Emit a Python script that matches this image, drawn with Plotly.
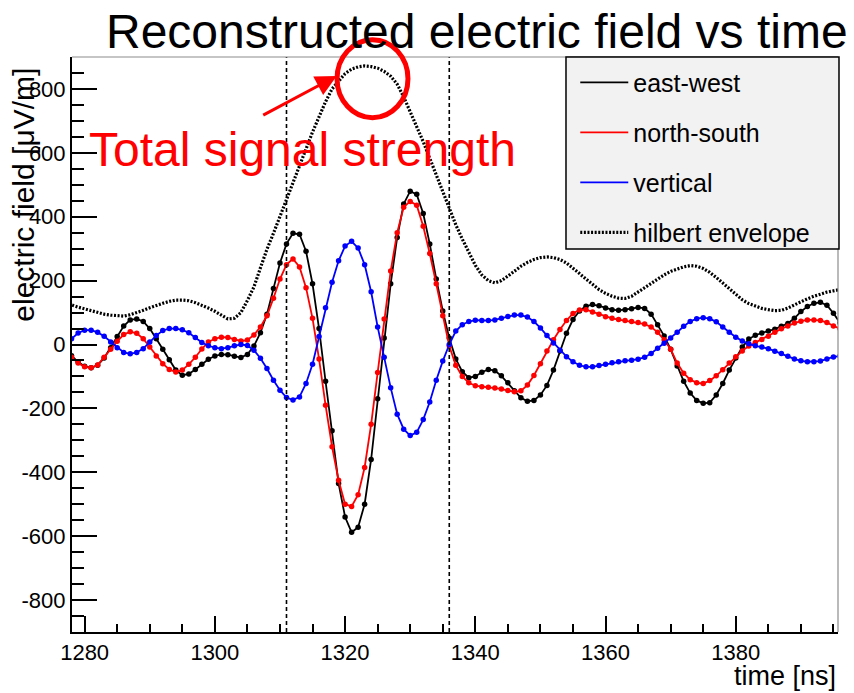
import plotly.graph_objects as go

# Sample times [ns] (1 ns spacing) and the reconstructed field components [uV/m]
time_ns = list(range(1277, 1397))

east_west = [
    -20, -35, -55, -68, -73, -65, -42, -10, 25, 58,
    77, 80, 72, 50, 18, -15, -48, -80, -96, -92,
    -78, -62, -46, -36, -31, -32, -37, -41, -31, -5,
    37, 95, 175, 255, 315, 348, 345, 292, 190, 50,
    -115, -270, -435, -540, -588, -572, -500, -360, -170, 20,
    190, 335, 440, 480, 470, 410, 315, 205, 105, 20,
    -45, -85, -104, -100, -87, -78, -82, -98, -120, -145,
    -167, -178, -175, -158, -128, -80, -20, 35, 78, 105,
    120, 125, 121, 114, 109, 107, 109, 112, 116, 113,
    95, 62, 27, -15, -67, -115, -152, -175, -184, -182,
    -158, -122, -80, -42, -8, 17, 29, 36, 42, 48,
    57, 66, 82, 103, 119, 129, 132, 123, 98, 68,
]

north_south = [
    -25, -40, -58, -70, -73, -64, -40, -15, 10, 31,
    40, 35, 18, -8, -36, -60, -78, -86, -80, -62,
    -40, -14, 8, 18, 23, 22, 16, 11, 14, 30,
    55, 90, 145, 205, 250, 268, 243, 178, 82, -45,
    -190, -320, -425, -500, -507, -470, -385, -250, -88, 80,
    230, 350, 430, 448, 436, 370, 285, 190, 90, -5,
    -65, -100, -120, -129, -132, -134, -136, -139, -144, -148,
    -145, -127, -97, -60, -20, 15, 47, 75, 97, 108,
    109, 102, 95, 87, 82, 78, 75, 72, 69, 64,
    55, 38, 15, -15, -58, -90, -110, -120, -122, -113,
    -98, -79, -58, -38, -20, -5, 6, 16, 26, 38,
    49, 58, 67, 73, 77, 77, 75, 69, 58, 50,
]

vertical = [
    5, 18, 36, 45, 45, 38, 26, 8, -10, -25,
    -29, -25, -13, 8, 28, 44, 50, 50, 46, 37,
    22, 6, -4, -10, -13, -10, -4, 0, -3, -18,
    -43, -75, -112, -143, -166, -174, -164, -122, -62, 25,
    115, 195, 262, 308, 323, 302, 250, 165, 55, -40,
    -135, -218, -265, -285, -275, -235, -180, -112, -52, 0,
    42, 62, 72, 76, 75, 75, 77, 82, 88, 92,
    92, 86, 72, 52, 28, 5, -18, -38, -54, -65,
    -70, -70, -66, -62, -57, -54, -51, -49, -46, -40,
    -28, -12, 4, 20, 38, 57, 72, 81, 84, 81,
    71, 55, 38, 23, 11, 2, -4, -8, -13, -21,
    -28, -37, -45, -51, -54, -54, -52, -45, -39, -36,
]

hilbert_envelope = [
    128, 124, 117, 111, 105, 100, 95, 92, 90, 89,
    93, 99, 107, 115, 123, 129, 135, 139, 139, 137,
    131, 123, 114, 104, 92, 80, 82, 100, 138, 180,
    240, 298, 348, 400, 450, 505, 555, 612, 665, 715,
    760, 800, 825, 848, 862, 869, 872, 870, 865, 855,
    840, 815, 775, 730, 685, 635, 583, 530, 478, 425,
    375, 330, 287, 248, 218, 200, 193, 200, 214, 230,
    245, 257, 266, 272, 274, 272, 266, 255, 240, 222,
    205, 187, 172, 160, 151, 145, 144, 151, 165, 177,
    192, 205, 218, 229, 237, 243, 247, 245, 238, 226,
    210, 192, 173, 155, 140, 128, 120, 113, 109, 106,
    107, 114, 124, 134, 143, 151, 158, 164, 168, 172,
]

# Signal search window [ns]
signal_window = [1311, 1336]

x_range = [1278.06, 1395.7]
y_range = [-900, 900]
x_tick_vals = [1280, 1300, 1320, 1340, 1360, 1380]
x_tick_text = ["1280", "1300", "1320", "1340", "1360", "1380"]
y_tick_vals = [-800, -600, -400, -200, 0, 200, 400, 600, 800]
y_tick_text = ["-800", "-600", "-400", "-200", "0", "200", "400", "600", "800"]

series = [
    ("east-west", east_west, "#000000"),
    ("north-south", north_south, "#ff0000"),
    ("vertical", vertical, "#0000ff"),
]

ROOT_FONT = "Liberation Sans Narrow, Arial Narrow, Liberation Sans, Arial, sans-serif"
SANS = "Liberation Sans, Arial, sans-serif"

fig = go.Figure()

for name, values, color in series:
    fig.add_trace(go.Scatter(
        x=time_ns, y=values, mode="lines", name=name, legendgroup=name,
        line=dict(color=color, width=1.8), hoverinfo="skip",
    ))
    fig.add_trace(go.Scatter(
        x=time_ns, y=values, mode="markers", name=name, legendgroup=name,
        showlegend=False, marker=dict(color=color, size=5.5), hoverinfo="skip",
    ))

fig.add_trace(go.Scatter(
    x=time_ns, y=hilbert_envelope, mode="lines", name="hilbert envelope",
    legendgroup="hilbert envelope",
    line=dict(color="#000000", width=3.2, dash="2px,1.6px"), hoverinfo="skip",
))

shapes = []
for t in signal_window:
    shapes.append(dict(
        type="line", xref="x", yref="paper", x0=t, x1=t, y0=0, y1=1,
        line=dict(color="#000000", width=1.6, dash="4px,3px"), layer="above",
    ))

# top and right frame edges
shapes.append(dict(type="line", xref="paper", yref="paper", x0=0, x1=1, y0=1, y1=1,
                   line=dict(color="#8c8c8c", width=1.2)))
shapes.append(dict(type="line", xref="paper", yref="paper", x0=1, x1=1, y0=0, y1=1,
                   line=dict(color="#8c8c8c", width=1.2)))

# legend box
shapes.append(dict(type="rect", xref="paper", yref="paper",
                   x0=0.6449, x1=1.0013, y0=0.6661, y1=1.0,
                   fillcolor="#f2f2f2", line=dict(color="#000000", width=1.5),
                   layer="above"))

# highlight around the envelope maximum
shapes.append(dict(type="circle", xref="paper", yref="paper",
                   x0=0.346, x1=0.4386, y0=0.8944, y1=1.030,
                   line=dict(color="#ff0000", width=5), layer="above"))

annotations = [
    dict(text="Reconstructed electric field vs time", xref="paper", yref="paper",
         x=1.0157, y=1.044, xanchor="right", yanchor="middle", showarrow=False,
         font=dict(family=SANS, size=48, color="#000000")),
    dict(text="electric field [\u03bcV/m]", xref="paper", yref="paper",
         x=-0.0627, y=0.7605, xanchor="center", yanchor="middle", textangle=-90,
         showarrow=False, font=dict(family=SANS, size=30, color="#000000")),
    dict(text="time [ns]", xref="paper", yref="paper",
         x=1.0, y=-0.076, xanchor="right", yanchor="middle", showarrow=False,
         font=dict(family=SANS, size=27, color="#000000")),
    dict(text="Total signal strength", xref="paper", yref="paper",
         x=0.3009, y=0.8388, xanchor="center", yanchor="middle", showarrow=False,
         font=dict(family=SANS, size=48, color="#ff0000")),
    dict(text="", xref="paper", yref="paper", x=0.3456, y=0.9671,
         ax=-75, ay=40, showarrow=True, arrowhead=2, arrowsize=1.4,
         arrowwidth=3, arrowcolor="#ff0000"),
]

fig.update_layout(
    width=854, height=693,
    margin=dict(l=72, r=16, t=57, b=61),
    paper_bgcolor="#ffffff", plot_bgcolor="#ffffff",
    shapes=shapes, annotations=annotations,
    showlegend=True,
    legend=dict(
        x=0.657, y=0.9954, xanchor="left", yanchor="top",
        bgcolor="rgba(0,0,0,0)", borderwidth=0,
        font=dict(family=SANS, size=25, color="#000000"),
        traceorder="grouped", tracegroupgap=14.5, itemwidth=48,
    ),
    xaxis=dict(
        range=x_range, tickvals=x_tick_vals, ticktext=x_tick_text,
        ticks="inside", ticklen=16, tickwidth=2, tickcolor="#000000",
        showline=True, linecolor="#000000", linewidth=2,
        showgrid=False, zeroline=False,
        minor=dict(tick0=1280, dtick=5, ticks="inside", ticklen=8,
                   tickwidth=1.5, tickcolor="#000000", showgrid=False),
        tickfont=dict(family=ROOT_FONT, size=22, color="#000000"),
    ),
    yaxis=dict(
        range=y_range, tickvals=y_tick_vals, ticktext=y_tick_text,
        ticks="inside", ticklen=25, tickwidth=2, tickcolor="#000000",
        showline=True, linecolor="#000000", linewidth=2,
        showgrid=False, zeroline=False,
        minor=dict(tick0=0, dtick=50, ticks="inside", ticklen=12,
                   tickwidth=1.5, tickcolor="#000000", showgrid=False),
        tickfont=dict(family=ROOT_FONT, size=22, color="#000000"),
    ),
)

fig.write_html("out.html")
